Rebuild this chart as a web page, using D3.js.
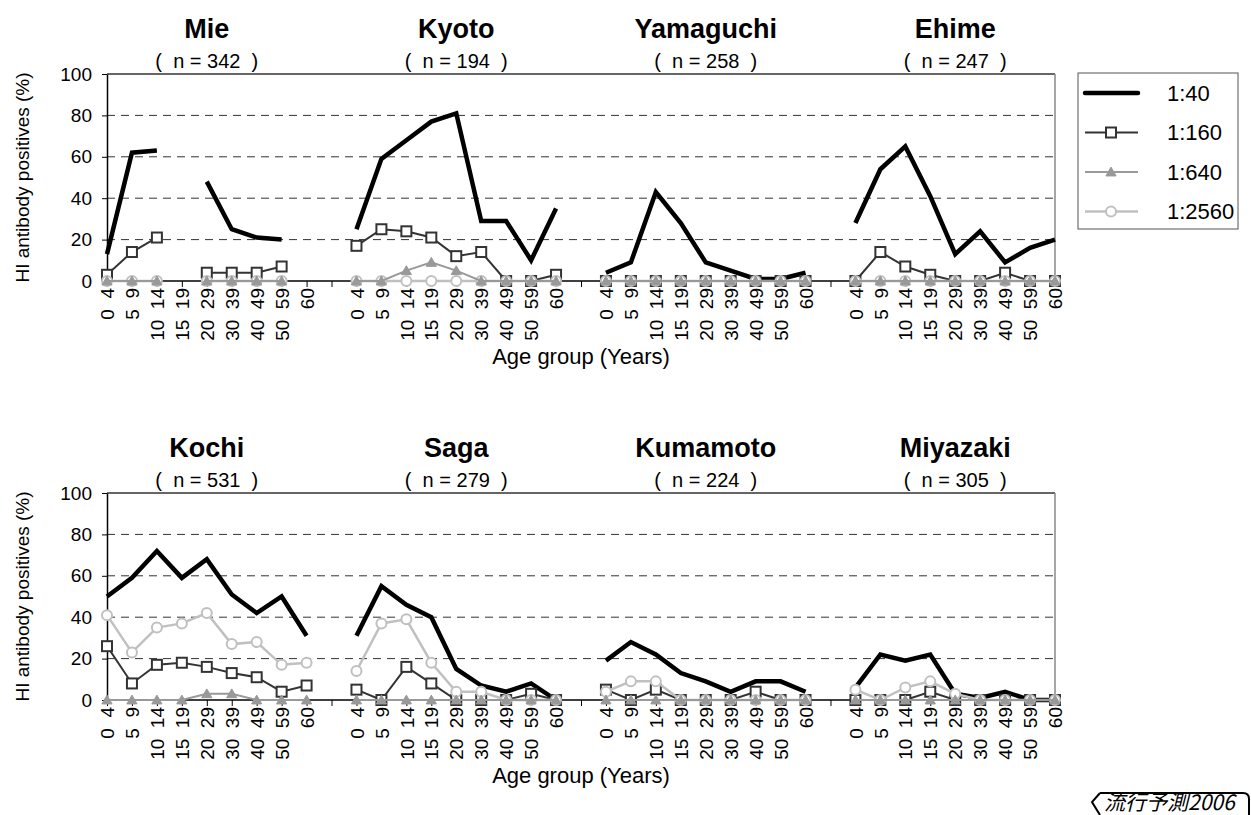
<!DOCTYPE html>
<html>
<head>
<meta charset="utf-8">
<script src="https://cdn.jsdelivr.net/npm/d3@7"></script>
<style>
  body { margin: 0; background: #fff; }
  svg { font-family: "Liberation Sans", Arial, sans-serif; }
</style>
</head>
<body>
<svg id="chart" width="1251" height="815"></svg>
<script>
// age groups (label shown rotated under each point)
const ages = ["0  4", "5  9", "10  14", "15  19", "20  29", "30  39", "40  49", "50  59", "60"];
const titres = ["1:40", "1:160", "1:640", "1:2560"];

// row 1
const prefTop = ["Mie", "Kyoto", "Yamaguchi", "Ehime"];
const nTop = [342, 194, 258, 247];
const mie40   = [13, 62, 63, null, 48, 25, 21, 20, null];
const mie160  = [3, 14, 21, null, 4, 4, 4, 7, null];
const mie640  = [0, 0, 0, null, 0, 0, 0, 0, null];
const mie2560 = [0, 0, 0, null, 0, 0, 0, 0, null];
const kyoto40   = [25, 59, 68, 77, 81, 29, 29, 10, 35];
const kyoto160  = [17, 25, 24, 21, 12, 14, 0, 0, 3];
const kyoto640  = [0, 0, 5, 9, 5, 0, 0, 0, 0];
const kyoto2560 = [0, 0, 0, 0, 0, 0, 0, 0, 0];
const yama40   = [4, 9, 43, 28, 9, 5, 1, 1, 4];
const yama160  = [0, 0, 0, 0, 0, 0, 0, 0, 0];
const yama640  = [0, 0, 0, 0, 0, 0, 0, 0, 0];
const yama2560 = [0, 0, 0, 0, 0, 0, 0, 0, 0];
const ehime40   = [28, 54, 65, 41, 13, 24, 9, 16, 20];
const ehime160  = [0, 14, 7, 3, 0, 0, 4, 0, 0];
const ehime640  = [0, 0, 0, 0, 0, 0, 0, 0, 0];
const ehime2560 = [0, 0, 0, 0, 0, 0, 0, 0, 0];

// row 2
const prefBottom = ["Kochi", "Saga", "Kumamoto", "Miyazaki"];
const nBottom = [531, 279, 224, 305];
const kochi40   = [50, 59, 72, 59, 68, 51, 42, 50, 31];
const kochi160  = [26, 8, 17, 18, 16, 13, 11, 4, 7];
const kochi640  = [0, 0, 0, 0, 3, 3, 0, 0, 0];
const kochi2560 = [41, 23, 35, 37, 42, 27, 28, 17, 18];
const saga40   = [31, 55, 46, 40, 15, 7, 4, 8, 0];
const saga160  = [5, 0, 16, 8, 0, 0, 0, 3, 0];
const saga640  = [0, 0, 0, 0, 0, 0, 0, 0, 0];
const saga2560 = [14, 37, 39, 18, 4, 4, 0, 0, 0];
const kuma40   = [19, 28, 22, 13, 9, 4, 9, 9, 4];
const kuma160  = [5, 0, 5, 0, 0, 0, 4, 0, 0];
const kuma640  = [0, 0, 0, 0, 0, 0, 0, 0, 0];
const kuma2560 = [4, 9, 9, 0, 0, 0, 0, 0, 0];
const miya40   = [6, 22, 19, 22, 3, 1, 4, 0, 0];
const miya160  = [0, 0, 0, 4, 0, 0, 0, 0, 0];
const miya640  = [0, 0, 0, 0, 0, 0, 0, 0, 0];
const miya2560 = [5, 0, 6, 9, 3, 0, 0, 0, 0];

const yTicks = [0, 20, 40, 60, 80, 100];

const rowTop = [
  [mie40, mie160, mie640, mie2560],
  [kyoto40, kyoto160, kyoto640, kyoto2560],
  [yama40, yama160, yama640, yama2560],
  [ehime40, ehime160, ehime640, ehime2560]
];
const rowBottom = [
  [kochi40, kochi160, kochi640, kochi2560],
  [saga40, saga160, saga640, saga2560],
  [kuma40, kuma160, kuma640, kuma2560],
  [miya40, miya160, miya640, miya2560]
];

const style = {
  "1:40":   {stroke: "#000", width: 4.5, marker: null},
  "1:160":  {stroke: "#333", width: 2, marker: "square"},
  "1:640":  {stroke: "#999", width: 2, marker: "triangle"},
  "1:2560": {stroke: "#c0c0c0", width: 2.5, marker: "circle"}
};
// draw order: circles beneath triangles like the original
const drawOrder = ["1:40", "1:160", "1:2560", "1:640"];

const svg = d3.select("#chart");
const left = 107, right = 1055;
const FONT = "'Liberation Sans', Arial, sans-serif";

// slot keys: 4 groups of 9 ages, one empty slot between groups
function slotKeys(prefs) {
  const keys = [];
  prefs.forEach((p, gi) => {
    ages.forEach(a => keys.push(p + "|" + a));
    if (gi < prefs.length - 1) keys.push("gap" + gi);
  });
  return keys;
}

function drawMarker(g, type, x, y, s) {
  if (type === "square") {
    g.append("rect").attr("x", x - 5).attr("y", y - 5).attr("width", 10).attr("height", 10)
      .attr("fill", "#fff").attr("stroke", s.stroke).attr("stroke-width", 2);
  } else if (type === "triangle") {
    g.append("path").attr("d", d3.symbol(d3.symbolTriangle, 45)()).attr("transform", `translate(${x},${y + 1})`)
      .attr("fill", "#999").attr("stroke", "#999").attr("stroke-width", 1);
  } else if (type === "circle") {
    g.append("circle").attr("cx", x).attr("cy", y).attr("r", 5)
      .attr("fill", "#fff").attr("stroke", s.stroke).attr("stroke-width", 2);
  }
}

function panel(prefs, ns, rows, top, bottom) {
  const keys = slotKeys(prefs);
  const x = d3.scalePoint().domain(keys).range([left, right]);
  const y = d3.scaleLinear().domain([0, 100]).range([bottom, top]);
  const g = svg.append("g");

  // grid
  g.selectAll(".grid").data(yTicks.filter(t => t > 0 && t < 100)).join("line")
    .attr("x1", left).attr("x2", right).attr("y1", d => y(d)).attr("y2", d => y(d))
    .attr("stroke", "#333").attr("stroke-width", 1).attr("stroke-dasharray", "8,6");
  g.append("line").attr("x1", left).attr("x2", right).attr("y1", top).attr("y2", top)
    .attr("stroke", "#333").attr("stroke-width", 1.5);
  g.append("line").attr("x1", right).attr("x2", right).attr("y1", top).attr("y2", bottom)
    .attr("stroke", "#888").attr("stroke-width", 1.5);

  // y axis
  const ya = g.append("g").attr("transform", `translate(${left},0)`)
    .call(d3.axisLeft(y).tickValues(yTicks).tickSize(5).tickSizeOuter(0));
  ya.select(".domain").attr("stroke", "#000").attr("stroke-width", 1.5);
  ya.selectAll(".tick line").attr("stroke", "#000");
  ya.selectAll("text").attr("font-size", 19).attr("fill", "#000")
    .attr("font-family", FONT).attr("x", -15);

  // x axis
  const xa = g.append("g").attr("transform", `translate(0,${bottom})`)
    .call(d3.axisBottom(x).tickSize(6).tickSizeOuter(0).tickFormat(k => k.startsWith("gap") ? "" : k.split("|")[1]));
  xa.select(".domain").attr("stroke", "#000").attr("stroke-width", 1.5)
    .attr("d", `M${left},0H${right}`);
  xa.selectAll(".tick line").attr("stroke", "#000");
  xa.selectAll("text").attr("font-size", 19).attr("fill", "#000")
    .attr("font-family", FONT)
    .attr("transform", "rotate(-90)").attr("text-anchor", "end")
    .attr("x", -7).attr("y", 0).attr("dy", "0.35em")
    .style("white-space", "pre").attr("xml:space", "preserve");

  // series
  prefs.forEach((p, gi) => {
    drawOrder.forEach(t => {
      const ti = titres.indexOf(t);
      const s = style[t];
      const vals = rows[gi][ti].map((v, i) => ({k: p + "|" + ages[i], v}));
      const line = d3.line().defined(d => d.v !== null).x(d => x(d.k)).y(d => y(d.v));
      g.append("path").attr("d", line(vals)).attr("fill", "none")
        .attr("stroke", s.stroke).attr("stroke-width", s.width).attr("stroke-linejoin", "miter");
      if (s.marker) vals.filter(d => d.v !== null).forEach(d => drawMarker(g, s.marker, x(d.k), y(d.v), s));
    });
    // titles
    const cx = x(p + "|" + ages[4]);
    g.append("text").attr("x", cx).attr("y", top - 36).attr("text-anchor", "middle")
      .attr("font-size", 27).attr("font-weight", "bold").text(p);
    g.append("text").attr("x", cx).attr("y", top - 6).attr("text-anchor", "middle")
      .attr("font-size", 20).attr("xml:space", "preserve").style("white-space", "pre")
      .text(`(  n = ${ns[gi]}  )`);
  });

  // axis titles
  svg.append("text").attr("transform", `translate(29,${(top + bottom) / 2}) rotate(-90)`)
    .attr("text-anchor", "middle").attr("font-size", 19).text("HI antibody positives (%)");
  svg.append("text").attr("x", 581).attr("y", bottom + 83).attr("text-anchor", "middle")
    .attr("font-size", 22).text("Age group (Years)");
}

panel(prefTop, nTop, rowTop, 74, 281);
panel(prefBottom, nBottom, rowBottom, 493, 700);

// legend
const lg = svg.append("g");
lg.append("rect").attr("x", 1078).attr("y", 73).attr("width", 160).attr("height", 156)
  .attr("fill", "#fff").attr("stroke", "#555").attr("stroke-width", 1);
titres.forEach((t, i) => {
  const s = style[t];
  const ly = 93 + i * 39.5;
  lg.append("line").attr("x1", 1085).attr("x2", 1138).attr("y1", ly).attr("y2", ly)
    .attr("stroke", s.stroke).attr("stroke-width", s.width).attr("stroke-linecap", t === "1:40" ? "round" : "butt");
  if (s.marker) drawMarker(lg, s.marker, 1111, ly, s);
  lg.append("text").attr("x", 1167).attr("y", ly).attr("dy", "0.35em")
    .attr("font-size", 22).text(t);
});

// stamp at bottom right
svg.append("path").attr("d", "M1100,793 L1092,802 L1100,815 M1100,793 H1243 Q1249,793 1249,799 L1249,815")
  .attr("fill", "none").attr("stroke", "#000").attr("stroke-width", 2);
svg.append("text").attr("x", 1104).attr("y", 810).attr("font-size", 21).attr("font-style", "italic")
  .attr("font-family", "'Noto Sans CJK JP', sans-serif").text("流行予測2006");
</script>
</body>
</html>
